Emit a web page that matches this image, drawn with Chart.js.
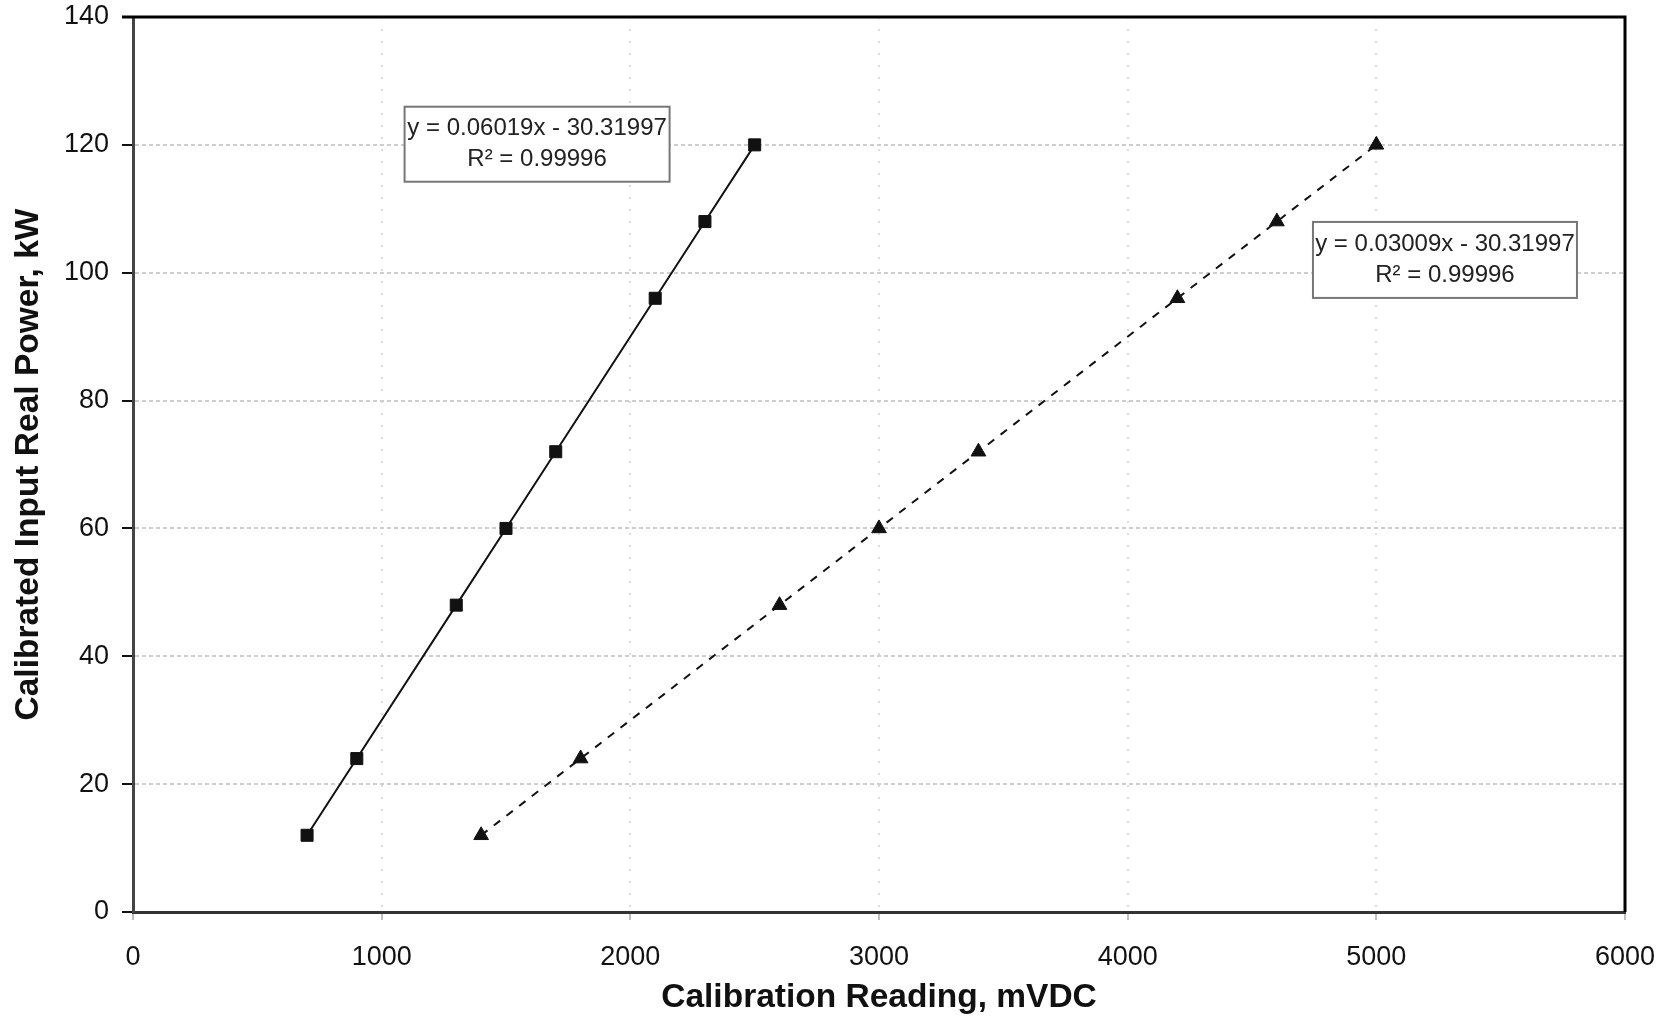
<!DOCTYPE html>
<html><head><meta charset="utf-8">
<script src="https://cdn.jsdelivr.net/npm/chart.js@4.4.1/dist/chart.umd.min.js"></script>
<style>html,body{margin:0;padding:0;background:#fff}#wrap{width:1669px;height:1018px}</style>
</head><body><div id="wrap"><canvas id="c" width="1669" height="1018"></canvas></div>
<script>
// ---- data ----
const squareX = [700, 900, 1300, 1500, 1700, 2100, 2300, 2500];
const squareY = [12, 24, 48, 60, 72, 96, 108, 120];
const triangleX = [1400, 1800, 2600, 3000, 3400, 4200, 4600, 5000];
const triangleY = [12, 24, 48, 60, 72, 96, 108, 120];
const xTicks = [0, 1000, 2000, 3000, 4000, 5000, 6000];
const yTicks = [0, 20, 40, 60, 80, 100, 120, 140];
const fitLabel1 = ["y = 0.06019x - 30.31997", "R² = 0.99996"];
const fitLabel2 = ["y = 0.03009x - 30.31997", "R² = 0.99996"];
const xTitle = "Calibration Reading, mVDC";
const yTitle = "Calibrated Input Real Power, kW";

const toPts = (xs, ys) => xs.map((x, i) => ({x: x, y: ys[i]}));
const FONT = "'Liberation Sans', Arial, sans-serif";

const frameAndBoxes = {
  id: 'frameAndBoxes',
  afterDraw(chart, args, opts) {
    const {ctx, chartArea: a, scales} = chart;
    ctx.save();
    ctx.strokeStyle = '#000';
    ctx.lineWidth = 3;
    ctx.beginPath();
    ctx.moveTo(a.left - 11, a.top);
    ctx.lineTo(a.right, a.top);
    ctx.lineTo(a.right, a.bottom);
    ctx.stroke();
    opts.boxes.forEach(b => {
      const cx = scales.x.getPixelForValue(b.x);
      const cy = scales.y.getPixelForValue(b.y);
      const w = b.w, h = b.h;
      ctx.fillStyle = '#fff';
      ctx.fillRect(cx - w / 2, cy - h / 2, w, h);
      ctx.strokeStyle = '#777';
      ctx.lineWidth = 2;
      ctx.strokeRect(cx - w / 2, cy - h / 2, w, h);
      ctx.fillStyle = '#222';
      ctx.font = "24px " + FONT;
      ctx.textAlign = 'center';
      ctx.textBaseline = 'middle';
      ctx.fillText(b.lines[0], cx, cy - 16);
      ctx.fillText(b.lines[1], cx, cy + 15);
    });
    ctx.restore();
  }
};

const zeroPad = s => { s.paddingTop = 0; s.paddingBottom = 0; s.paddingLeft = 0; s.paddingRight = 0; };

new Chart(document.getElementById('c'), {
  type: 'scatter',
  data: {
    datasets: [
      {
        data: toPts(squareX, squareY),
        showLine: true,
        borderColor: '#111',
        borderWidth: 2,
        backgroundColor: '#111',
        pointStyle: 'rect',
        pointRadius: 8.5,
        pointBorderWidth: 1,
        pointBorderColor: '#111',
        pointBackgroundColor: '#111'
      },
      {
        data: toPts(triangleX, triangleY),
        showLine: true,
        borderColor: '#111',
        borderWidth: 2,
        borderDash: [8, 8],
        backgroundColor: '#111',
        pointStyle: 'triangle',
        pointRadius: 8.5,
        pointBorderWidth: 1,
        pointBorderColor: '#111',
        pointBackgroundColor: '#111'
      }
    ]
  },
  options: {
    responsive: false,
    animation: false,
    devicePixelRatio: 1,
    layout: {padding: {top: 17, right: 44, left: 0, bottom: 0}},
    plugins: {
      legend: {display: false},
      tooltip: {enabled: false},
      frameAndBoxes: {
        boxes: [
          {x: 1625, y: 120.1, w: 265, h: 75, lines: fitLabel1},
          {x: 5276, y: 102.0, w: 264, h: 76, lines: fitLabel2}
        ]
      }
    },
    scales: {
      x: {
        type: 'linear',
        min: 0, max: 6000,
        afterBuildTicks: s => { s.ticks = xTicks.map(v => ({value: v})); },
        afterFit: s => { s.height = 106; zeroPad(s); },
        grid: {
          color: '#dcdcdc', lineWidth: 2, borderDash: [2, 10],
          tickColor: '#aaa', tickLength: 8, tickWidth: 1.5, tickBorderDash: []
        },
        border: {display: true, color: '#333', width: 3, dash: [2, 10]},
        ticks: {color: '#111', font: {family: FONT, size: 27}, padding: 21, maxRotation: 0,
                callback: v => String(v)},
        title: {
          display: true, text: xTitle, color: '#111',
          font: {family: FONT, size: 33.5, weight: 'bold'},
          padding: {top: 0, bottom: 0}
        }
      },
      y: {
        type: 'linear',
        min: 0, max: 140,
        afterBuildTicks: s => { s.ticks = yTicks.map(v => ({value: v})); },
        afterFit: s => { s.width = 133; zeroPad(s); },
        grid: {
          color: '#cdcdcd', lineWidth: 2, borderDash: [4, 3],
          tickColor: '#111', tickLength: 11, tickWidth: 2, tickBorderDash: []
        },
        border: {display: true, color: '#444', width: 3, dash: [4, 3]},
        ticks: {color: '#111', font: {family: FONT, size: 27}, padding: 13, callback: v => String(v)},
        title: {
          display: true, text: yTitle, color: '#111',
          font: {family: FONT, size: 33.5, weight: 'bold'},
          padding: {top: 9, bottom: 0}
        }
      }
    }
  },
  plugins: [frameAndBoxes]
});
</script>
</body></html>
